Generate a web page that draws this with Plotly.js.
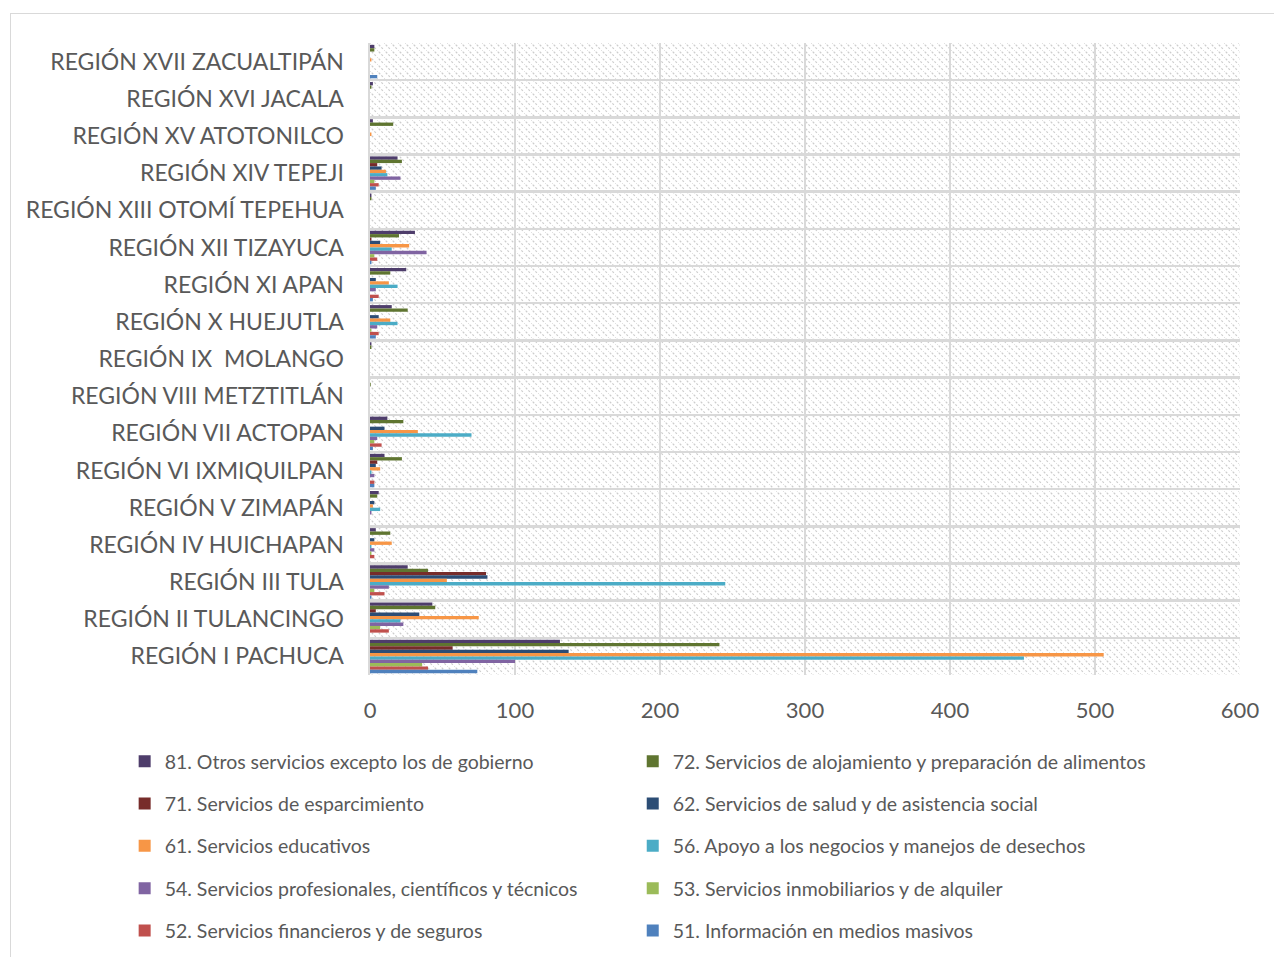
<!DOCTYPE html>
<html>
<head>
<meta charset="utf-8">
<script src="https://cdn.plot.ly/plotly-3.0.1.min.js"></script>
<style>
  html, body { margin: 0; padding: 0; background: #ffffff; overflow: hidden; }
  #chart { width: 1274px; height: 957px; }
  #frame { position: absolute; left: 10px; top: 13px; width: 1300px; height: 1000px;
           border: 1px solid #d9d9d9; pointer-events: none; }
</style>
</head>
<body>
<div id="chart"></div>
<div id="frame"></div>
<script>
// Regions, top to bottom
const regions = [
  "REGIÓN XVII ZACUALTIPÁN", "REGIÓN XVI JACALA", "REGIÓN XV ATOTONILCO", "REGIÓN XIV TEPEJI",
  "REGIÓN XIII OTOMÍ TEPEHUA", "REGIÓN XII TIZAYUCA", "REGIÓN XI APAN", "REGIÓN X HUEJUTLA",
  "REGIÓN IX  MOLANGO", "REGIÓN VIII METZTITLÁN", "REGIÓN VII ACTOPAN", "REGIÓN VI IXMIQUILPAN",
  "REGIÓN V ZIMAPÁN", "REGIÓN IV HUICHAPAN", "REGIÓN III TULA", "REGIÓN II TULANCINGO",
  "REGIÓN I PACHUCA"
];

const seriesNames = [
  "81. Otros servicios excepto los de gobierno",
  "72. Servicios de alojamiento y preparación de alimentos",
  "71. Servicios de esparcimiento",
  "62. Servicios de salud y de asistencia social",
  "61. Servicios educativos",
  "56. Apoyo a los negocios y manejos de desechos",
  "54. Servicios profesionales, científicos y técnicos",
  "53. Servicios inmobiliarios y de alquiler",
  "52. Servicios financieros y de seguros",
  "51. Información en medios masivos"
];

const s81 = [3, 2, 2, 19, 1, 31, 25, 15, 1, 0, 12, 10, 6, 4, 26, 43, 131];
const s72 = [3, 1, 16, 22, 1, 20, 14, 26, 1, 0.5, 23, 22, 5, 14, 40, 45, 241];
const s71 = [0, 0, 0, 5, 0, 1, 0, 0, 0, 0, 0, 5, 0, 0, 80, 4, 57];
const s62 = [0, 0, 0, 8, 0, 7, 4, 6, 0, 0, 10, 4, 3, 3, 81, 34, 137];
const s61 = [1, 0, 1, 11, 0, 27, 13, 14, 0, 0, 33, 7, 2, 15, 53, 75, 506];
const s56 = [0, 0, 0, 12, 0, 15, 19, 19, 0, 0, 70, 1, 7, 1, 245, 21, 451];
const s54 = [0, 0, 0, 21, 0, 39, 4, 5, 0, 0, 5, 3, 1, 3, 13, 23, 100];
const s53 = [0, 0, 0, 3, 0, 3, 0, 1, 0, 0, 3, 0, 0, 1, 3, 7, 36];
const s52 = [0, 0, 0, 6, 0, 5, 6, 6, 0, 0, 8, 3, 0, 3, 10, 13, 40];
const s51 = [5, 0, 0, 4, 0, 1, 2, 4, 0, 0, 2, 3, 0, 0, 1, 0, 74];

const xTicks = [0, 100, 200, 300, 400, 500, 600];

const seriesValues = [s81, s72, s71, s62, s61, s56, s54, s53, s52, s51];
const colors = ["#4E3D6B", "#5F7530", "#772C2A", "#2C4D75", "#F79646",
                "#4BACC6", "#8064A2", "#9BBB59", "#C0504D", "#4F81BD"];

const traces = seriesValues.map((vals, i) => ({
  type: "bar",
  orientation: "h",
  name: seriesNames[i],
  y: regions,
  x: vals,
  marker: { color: colors[i], line: { width: 0 } },
  legend: i % 2 === 0 ? "legend" : "legend2",
  legendgroup: "g" + i,
  hoverinfo: "x+name"
}));

// Hatched plot-area background
const W = 870, H = 632;
const hatchSvg =
  '<svg xmlns="http://www.w3.org/2000/svg" width="' + W + '" height="' + H + '">' +
  '<defs><pattern id="p" width="7" height="7" patternUnits="userSpaceOnUse">' +
  '<path d="M-1,-1 L8,8" stroke="#cdcdcd" stroke-width="1.2" stroke-dasharray="2.2,1.6"/>' +
  '</pattern></defs><rect width="' + W + '" height="' + H + '" fill="#ffffff"/>' +
  '<rect width="' + W + '" height="' + H + '" fill="url(#p)"/></svg>';
const hatchUri = "data:image/svg+xml;charset=utf-8," + encodeURIComponent(hatchSvg);

const fontFam = "Lato, 'Open Sans', sans-serif";
const legendCommon = {
  font: { family: fontFam, size: 19.5, color: "#595959" },
  bgcolor: "rgba(0,0,0,0)",
  traceorder: "grouped",
  tracegroupgap: 14,
  orientation: "v",
  xanchor: "left",
  yanchor: "top",
  itemclick: false
};

const layout = {
  width: 1274,
  height: 957,
  margin: { l: 370, r: 34, t: 43, b: 282, autoexpand: false },
  paper_bgcolor: "#ffffff",
  plot_bgcolor: "rgba(0,0,0,0)",
  barmode: "group",
  bargap: 0.1,
  bargroupgap: 0,
  font: { family: fontFam, color: "#595959" },
  xaxis: {
    range: [0, 600],
    tickvals: xTicks,
    ticktext: xTicks.map(String),
    tickfont: { family: fontFam, size: 22, color: "#595959" },
    showgrid: true,
    gridcolor: "#d9d9d9",
    gridwidth: 2.5,
    zeroline: false,
    showline: false,
    ticks: "",
    ticklabelstandoff: 20,
    fixedrange: true
  },
  yaxis: {
    type: "category",
    autorange: "reversed",
    tickson: "boundaries",
    showgrid: true,
    gridcolor: "#d9d9d9",
    gridwidth: 2.5,
    showline: true,
    linecolor: "#d9d9d9",
    linewidth: 2.5,
    ticks: "",
    tickfont: { family: fontFam, size: 23, color: "#595959" },
    ticklabelstandoff: 19,
    fixedrange: true
  },
  legend: Object.assign({}, legendCommon, { x: -0.282, y: -0.106 }),
  legend2: Object.assign({}, legendCommon, { x: 0.302, y: -0.106 }),
  images: [{
    source: hatchUri,
    xref: "paper", yref: "paper",
    x: 0, y: 1, sizex: 1, sizey: 1,
    xanchor: "left", yanchor: "top",
    sizing: "stretch",
    layer: "below"
  }]
};

Plotly.newPlot("chart", traces, layout, { displayModeBar: false, staticPlot: true });
</script>
</body>
</html>
